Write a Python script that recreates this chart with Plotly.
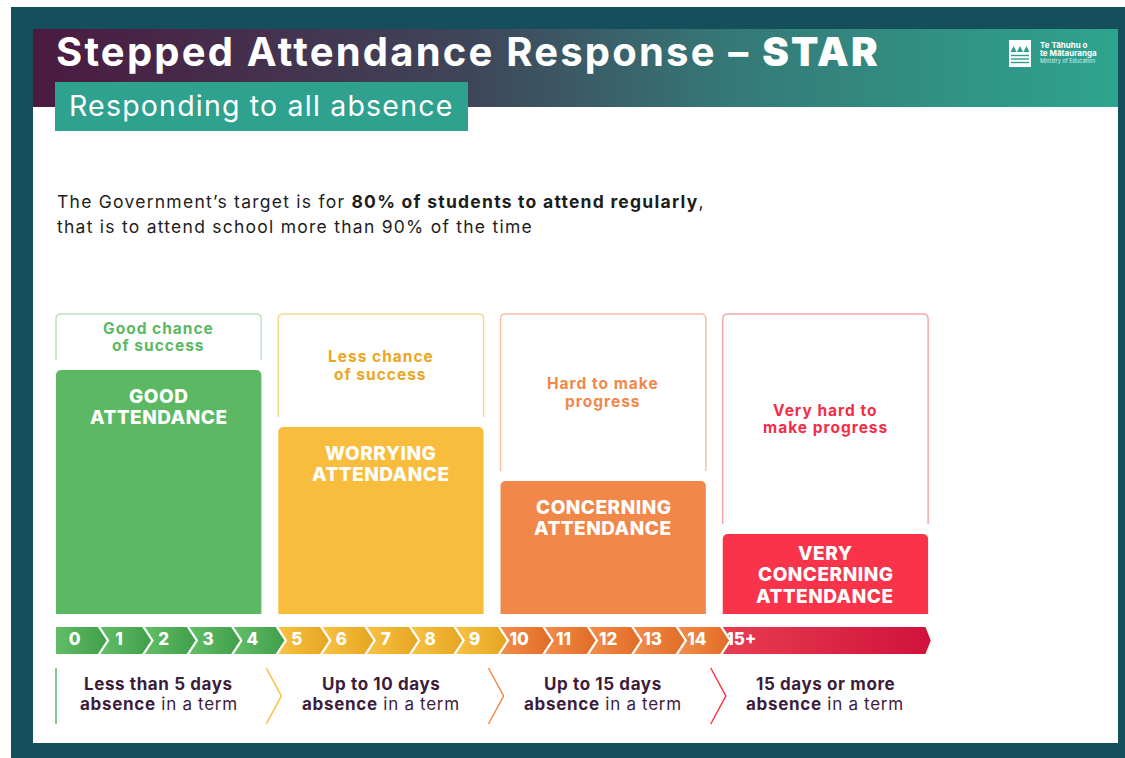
import plotly.graph_objects as go

W, H = 1125, 758

# ---------------- data ----------------
day_labels = [str(i) for i in range(15)] + ["15+"]
day_starts = list(range(16))
band_start_days = [0, 5, 10, 15]
band_heights = [244, 187, 133, 80]  # relative height of each attendance band
band_names = [["GOOD", "ATTENDANCE"], ["WORRYING", "ATTENDANCE"],
              ["CONCERNING", "ATTENDANCE"], ["VERY", "CONCERNING", "ATTENDANCE"]]
chance_labels = [["Good chance", "of success"], ["Less chance", "of success"],
                 ["Hard to make", "progress"], ["Very hard to", "make progress"]]
absence_bold = ["Less than 5 days", "Up to 10 days", "Up to 15 days", "15 days or more"]

# ---------------- styles ----------------
FONT = "Inter"
band_colors = ["#5cb863", "#f9bd3e", "#f2874a", "#f9334a"]
outline_colors = ["#bfe3bf", "#f9d690", "#f8c0a2", "#f9a5af"]
chance_colors = ["#5cb863", "#eba623", "#f2874a", "#f52c45"]
divider_colors = ["#5cb863", "#f9bd3e", "#f2874a", "#f93348"]
seg_grad = {0: ("#63bd66", "#3f9f4b"), 1: ("#f8c244", "#e6a520"),
            2: ("#f28d4c", "#e16c25"), 3: ("#e83d50", "#d0123b")}
TEXT_DARK = "#1d1d1b"
PURPLE = "#3d1c3b"

X0, DX, Y0 = 56.0, 44.45, 614.0  # pixel anchors for the day axis / band axis
BAND_W = 4.62


def pxx(x):
    return x / W


def pxy(y):
    return 1 - y / H


def ls(text, px):
    return f"<span style='letter-spacing:{px}px'>{text}</span>"


fig = go.Figure()

# header gradient banner (pixel axes x2/y2)
fig.add_trace(go.Scatter(
    x=[33, 1118, 1118, 33, 33], y=[29, 29, 107, 107, 29], xaxis="x2", yaxis="y2",
    mode="lines", line=dict(width=0), fill="toself",
    fillgradient=dict(type="horizontal",
                      colorscale=[[0, "#4b1a41"], [0.4, "#3f4559"], [0.65, "#357a78"], [1, "#2ea48f"]]),
    hoverinfo="skip", showlegend=False))

# attendance bands
fig.add_trace(go.Bar(
    x=band_start_days, y=band_heights, width=BAND_W, offset=0,
    marker=dict(color=band_colors, line=dict(width=0)),
    hoverinfo="skip", showlegend=False))

# chevron day scale
top, bot, mid = -13, -40, -26.5
g, t = 0.06, 0.2
for i in day_starts:
    xl = i
    xr = i + 1 if i < 15 else band_start_days[3] + BAND_W
    grp = min(i // 5, 3)
    if i == 0:
        xs = [xl, xr - g, xr - g + t, xr - g, xl, xl]
        ys = [top, top, mid, bot, bot, top]
    else:
        xs = [xl, xr - g, xr - g + (t if i < 15 else 0.12), xr - g, xl, xl + t, xl]
        ys = [top, top, mid, bot, bot, mid, top]
    c0, c1 = seg_grad[grp]
    fig.add_trace(go.Scatter(
        x=xs, y=ys, mode="lines", line=dict(width=0), fill="toself",
        fillgradient=dict(type="horizontal", colorscale=[[0, c0], [1, c1]]),
        hoverinfo="skip", showlegend=False))

fig.add_trace(go.Scatter(
    x=[d + 0.42 for d in day_starts], y=[mid] * len(day_starts), text=day_labels,
    mode="text", textfont=dict(family=FONT, size=17, color="white", weight=800),
    hoverinfo="skip", showlegend=False))

shapes = []
# frame
shapes.append(dict(type="rect", xref="paper", yref="paper", x0=pxx(11), x1=1, y0=0, y1=pxy(7),
                   fillcolor="#164f5c", line_width=0, layer="below"))
shapes.append(dict(type="rect", xref="paper", yref="paper", x0=pxx(33), x1=pxx(1118), y0=pxy(743), y1=pxy(29),
                   fillcolor="white", line_width=0, layer="below"))
# subtitle box
shapes.append(dict(type="rect", xref="paper", yref="paper", x0=pxx(55), x1=pxx(468), y0=pxy(131), y1=pxy(82),
                   fillcolor="#2fa18f", line_width=0, layer="above"))
# logo
shapes.append(dict(type="rect", xref="paper", yref="paper", x0=pxx(1009), x1=pxx(1031), y0=pxy(67), y1=pxy(40),
                   fillcolor="white", line_width=0))
for k in range(3):
    cx = 1013.5 + k * 6.5
    shapes.append(dict(type="path", xref="paper", yref="paper",
                       path=f"M {pxx(cx-3)},{pxy(52)} L {pxx(cx)},{pxy(46)} L {pxx(cx+3)},{pxy(52)} Z",
                       fillcolor="#2e9d8b", line_width=0))
for wy in (55.5, 59, 62.5):
    shapes.append(dict(type="line", xref="paper", yref="paper", x0=pxx(1011), x1=pxx(1029),
                       y0=pxy(wy), y1=pxy(wy), line=dict(color="#2e9d8b", width=1.4)))

# outline boxes above each band
r_y, r_x = 5, 5 / DX
out_top = 300
for k, (s, h) in enumerate(zip(band_start_days, band_heights)):
    x0, x1 = s, s + BAND_W
    yb = h + 10
    path = (f"M {x0},{yb} L {x0},{out_top - r_y} Q {x0},{out_top} {x0 + r_x},{out_top} "
            f"L {x1 - r_x},{out_top} Q {x1},{out_top} {x1},{out_top - r_y} L {x1},{yb}")
    shapes.append(dict(type="path", xref="x", yref="y", path=path,
                       line=dict(color=outline_colors[k], width=1.5)))

# dividers under the scale
shapes.append(dict(type="line", xref="x", yref="y", x0=0, x1=0, y0=-54, y1=-110,
                   line=dict(color=divider_colors[0], width=1.5)))
for k in range(1, 4):
    s = band_start_days[k]
    shapes.append(dict(type="path", xref="x", yref="y",
                       path=f"M {s-0.27},-54 L {s+0.07},-82 L {s-0.27},-110",
                       line=dict(color=divider_colors[k], width=1.5)))

ann = []


def A(text, x, y, size, color, xanchor="center", weight=400, xref="paper", yref="paper", family=FONT):
    ann.append(dict(text=text, x=x, y=y, xref=xref, yref=yref, xanchor=xanchor, yanchor="middle",
                    showarrow=False, font=dict(family=family, size=size, color=color, weight=weight)))


A(ls("Stepped Attendance Response – <span style='font-weight:900'>STAR</span>", 2.2),
  pxx(54), pxy(51), 40, "white", "left", 700)
A(ls("Responding to all absence", 1.2), pxx(67), pxy(106), 28.5, "white", "left", 400)
A("Te Tāhuhu o", pxx(1038), pxy(45), 8, "white", "left", 700)
A("te Mātauranga", pxx(1038), pxy(53), 8, "white", "left", 700)
A("Ministry of Education", pxx(1038), pxy(61), 5.5, "#d8efea", "left", 400)

A(ls("The Government’s target is for <b>80% of students to attend regularly</b>,", 1.25),
  pxx(55), pxy(201), 17.5, TEXT_DARK, "left")
A(ls("that is to attend school more than 90% of the time", 1.25), pxx(55), pxy(226), 17.5, TEXT_DARK, "left")

for k, (s, h) in enumerate(zip(band_start_days, band_heights)):
    cx = s + BAND_W / 2
    # chance labels centred in outline box
    yc = (out_top + h + 10) / 2
    for j, ln in enumerate(chance_labels[k]):
        A(ls(ln, 1.0), cx, yc + 8.75 - 17.5 * j, 15.5, chance_colors[k], weight=700, xref="x", yref="y")
    # band names
    names = band_names[k]
    first = 26 if len(names) < 3 else 19
    for j, ln in enumerate(names):
        A(ls(ln, 0.5), cx, h - first - 21.5 * j, 19, "white", weight=800, xref="x", yref="y")
    # absence labels
    A(ls(f"<b>{absence_bold[k]}</b>", 0.6), cx, -70, 17, PURPLE, xref="x", yref="y")
    A(ls("<b>absence</b> in a term", 0.7), cx, -90, 17, PURPLE, xref="x", yref="y")

fig.update_layout(
    width=W, height=H, margin=dict(l=0, r=0, t=0, b=0),
    paper_bgcolor="white", plot_bgcolor="rgba(0,0,0,0)",
    barcornerradius=5,
    xaxis=dict(range=[(0 - X0) / DX, (W - X0) / DX], visible=False, domain=[0, 1], fixedrange=True),
    yaxis=dict(range=[Y0 - H, Y0], visible=False, domain=[0, 1], fixedrange=True),
    xaxis2=dict(range=[0, W], visible=False, overlaying="x", fixedrange=True),
    yaxis2=dict(range=[H, 0], visible=False, overlaying="y", fixedrange=True),
    shapes=shapes, annotations=ann, showlegend=False,
)

fig.write_html("out.html", config={"displayModeBar": False},
               post_script="document.body.style.margin='0px';")
